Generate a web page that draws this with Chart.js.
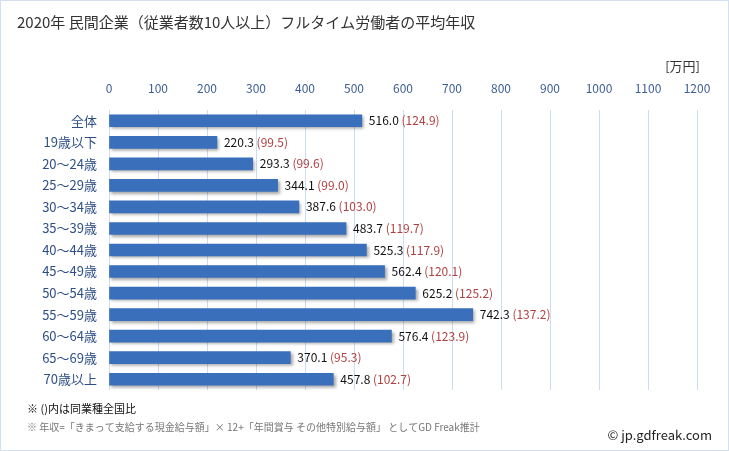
<!DOCTYPE html>
<html>
<head>
<meta charset="utf-8">
<script src="https://cdn.jsdelivr.net/npm/chart.js@4/dist/chart.umd.min.js"></script>
<style>
  html, body { margin: 0; padding: 0; background: #fff; }
  #wrap { position: relative; width: 729px; height: 451px; }
</style>
</head>
<body>
<div id="wrap"><canvas id="bar" width="729" height="451"></canvas></div>
<script>
const categories = ['全体', '19歳以下', '20～24歳', '25～29歳', '30～34歳', '35～39歳', '40～44歳',
  '45～49歳', '50～54歳', '55～59歳', '60～64歳', '65～69歳', '70歳以上'];
const salary = [516.0, 220.3, 293.3, 344.1, 387.6, 483.7, 525.3, 562.4, 625.2, 742.3, 576.4, 370.1, 457.8];
const ratio = [124.9, 99.5, 99.6, 99.0, 103.0, 119.7, 117.9, 120.1, 125.2, 137.2, 123.9, 95.3, 102.7];
const xTicks = [0, 100, 200, 300, 400, 500, 600, 700, 800, 900, 1000, 1100, 1200];

const FONT = '"Noto Sans CJK JP", "Noto Sans", sans-serif';

// frame, title, notes
const decor = {
  id: 'decor',
  beforeDraw(chart) {
    const c = chart.ctx;
    c.save();
    c.fillStyle = '#fff';
    c.fillRect(0, 0, chart.width, chart.height);
    c.strokeStyle = '#d3e0ef';
    c.lineWidth = 1;
    c.strokeRect(0.5, 0.5, chart.width - 1, chart.height - 1);
    c.restore();
  },
  afterDraw(chart) {
    const c = chart.ctx;
    c.save();
    c.textBaseline = 'middle';
    c.fillStyle = '#333';
    c.font = '15px ' + FONT;
    c.fillText('2020年 民間企業（従業者数10人以上）フルタイム労働者の平均年収', 17, 22);
    c.font = '13px ' + FONT;
    c.textAlign = 'right';
    c.fillText('[万円]', 700, 66);
    c.textAlign = 'left';
    c.fillStyle = '#111';
    c.font = '11px ' + FONT;
    c.fillText('※ ()内は同業種全国比', 27, 409);
    c.fillStyle = '#777';
    c.font = '10px ' + FONT;
    c.fillText('※ 年収=「きまって支給する現金給与額」× 12+「年間賞与 その他特別給与額」 としてGD Freak推計', 27, 427);
    c.fillStyle = '#222';
    c.font = '13px ' + FONT;
    c.textAlign = 'right';
    c.fillText('© jp.gdfreak.com', 712, 435);
    c.restore();
  }
};

// shadow under bars
const shadow = {
  id: 'shadow',
  beforeDatasetsDraw(chart) {
    const c = chart.ctx;
    c.save();
    c.shadowColor = 'rgba(0,0,0,0.35)';
    c.shadowBlur = 3;
    c.shadowOffsetX = 2;
    c.shadowOffsetY = 2;
  },
  afterDatasetsDraw(chart) {
    chart.ctx.restore();
  }
};

// value labels after each bar
const valueLabels = {
  id: 'valueLabels',
  afterDatasetsDraw(chart) {
    const c = chart.ctx;
    const meta = chart.getDatasetMeta(0);
    c.save();
    c.font = '12px ' + FONT;
    c.textBaseline = 'middle';
    meta.data.forEach((bar, i) => {
      const txt = salary[i].toFixed(1);
      const x = bar.x + 7;
      c.fillStyle = '#111';
      c.fillText(txt, x, bar.y);
      const w = c.measureText(txt + ' ').width;
      c.fillStyle = '#b04040';
      c.fillText('(' + ratio[i].toFixed(1) + ')', x + w, bar.y);
    });
    c.restore();
  }
};

const ctx = document.getElementById('bar');
const mychart = new Chart(ctx, {
  type: 'bar',
  data: {
    labels: categories,
    datasets: [{
      data: salary,
      barThickness: 12,
      backgroundColor: (context) => {
        const bar = context.element;
        const c = context.chart.ctx;
        if (!bar || !bar.y) return '#3a70bb';
        const g = c.createLinearGradient(0, bar.y - 6, 0, bar.y + 6);
        g.addColorStop(0, '#4d8bd4');
        g.addColorStop(0.5, '#3b73c0');
        g.addColorStop(1, '#2a5a9f');
        return g;
      },
      borderWidth: 0
    }]
  },
  options: {
    indexAxis: 'y',
    responsive: false,
    animation: false,
    layout: { padding: { left: 0, right: 32, top: 78, bottom: 61 } },
    plugins: { legend: { display: false }, tooltip: { enabled: false } },
    scales: {
      x: {
        position: 'top',
        min: 0,
        max: 1200,
        afterBuildTicks: (axis) => { axis.ticks = xTicks.map(v => ({ value: v })); },
        afterFit: (axis) => { axis.height = 32; },
        grid: { color: '#cddcee', drawTicks: false },
        border: { display: false },
        ticks: {
          padding: 14, color: '#3d5f95', font: { family: FONT, size: 12 },
          callback: (v) => String(v)
        }
      },
      y: {
        afterFit: (axis) => { axis.width = 109; },
        grid: { display: false, drawTicks: false },
        border: { display: false },
        ticks: { padding: 12, color: '#2e4f86', font: { family: FONT, size: 13 } }
      }
    }
  },
  plugins: [decor, shadow, valueLabels]
});
</script>
</body>
</html>
